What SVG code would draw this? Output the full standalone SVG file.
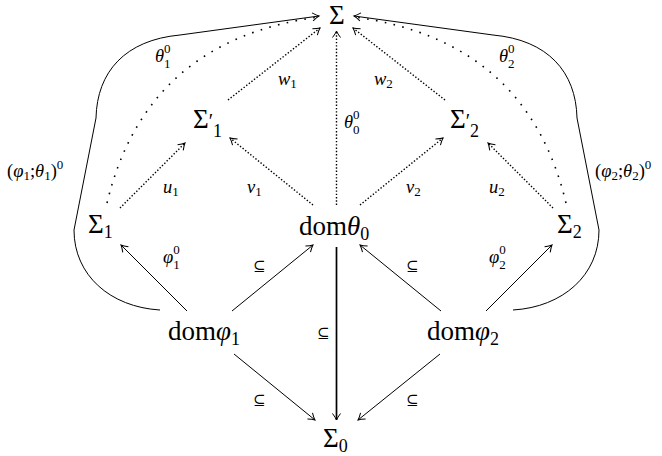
<svg xmlns="http://www.w3.org/2000/svg" width="662" height="456" viewBox="0 0 662 456">
<style>
text{font-family:"Liberation Serif","Times New Roman",serif;fill:#000}
.n{font-size:27px}
.l{font-size:18.5px}
.i{font-style:italic}
.s{font-size:13px}
.sn{font-size:18px}
.pr{font-size:20px}
.sub{font-family:"DejaVu Serif",serif;font-size:15px}
.solid{fill:none;stroke:#000;stroke-width:1}
.thick{fill:none;stroke:#000;stroke-width:1.7}
.dot{fill:none;stroke:#000;stroke-width:1.4;stroke-dasharray:1.4 1.9}
.cdot{fill:none;stroke:#000;stroke-width:1.6;stroke-dasharray:1.6 7.4}
</style>
<defs>
<marker id="ah" markerUnits="userSpaceOnUse" markerWidth="14" markerHeight="14" viewBox="-8 -7 10 14" refX="0" refY="0" orient="auto" overflow="visible">
<path d="M-6.5,-4 Q-2.5,-1 0,0 Q-2.5,1 -6.5,4" fill="none" stroke="#000" stroke-width="1"/>
</marker>
</defs>
<g id="connectors">
<path class="solid" d="M160,310 C110,307 74,275 74,230 L96,118 C97,72 125,40 180,35 L319,16" marker-end="url(#ah)"/>
<path class="solid" d="M513,310 C563,307 599,275 599,230 L577,118 C576,72 548,40 493,35 L354,16" marker-end="url(#ah)"/>
<path class="cdot" d="M107,203 Q146,40 319,17"/>
<path class="cdot" d="M566,203 Q527,40 354,17"/>
<path class="dot" d="M120,208 L185,143" marker-end="url(#ah)"/>
<path class="dot" d="M313,205 L230,138" marker-end="url(#ah)"/>
<path class="dot" d="M228,100 L320,28" marker-end="url(#ah)"/>
<path class="dot" d="M336.5,205 L336.5,31" marker-end="url(#ah)"/>
<path class="dot" d="M360,205 L443,138" marker-end="url(#ah)"/>
<path class="dot" d="M553,208 L488,143" marker-end="url(#ah)"/>
<path class="dot" d="M445,100 L353,28" marker-end="url(#ah)"/>
<path class="solid" d="M187,311 L121,245" marker-end="url(#ah)"/>
<path class="solid" d="M232,311 L313,245" marker-end="url(#ah)"/>
<path class="solid" d="M234,354 L315,420" marker-end="url(#ah)"/>
<path class="thick" d="M336.5,247 L336.5,420" marker-end="url(#ah)"/>
<path class="solid" d="M441,311 L360,245" marker-end="url(#ah)"/>
<path class="solid" d="M486,311 L552,245" marker-end="url(#ah)"/>
<path class="solid" d="M440,354 L358,420" marker-end="url(#ah)"/>
</g>
<g id="labels">
<text class="l" x="155" y="62"><tspan class="i">θ</tspan><tspan class="s" dy="-9">0</tspan><tspan class="s" dx="-6.5" dy="15">1</tspan></text>
<text class="l" x="499" y="62"><tspan class="i">θ</tspan><tspan class="s" dy="-9">0</tspan><tspan class="s" dx="-6.5" dy="15">2</tspan></text>
<text class="l" x="278" y="85"><tspan class="i">w</tspan><tspan class="s" dy="3">1</tspan></text>
<text class="l" x="374" y="85"><tspan class="i">w</tspan><tspan class="s" dy="3">2</tspan></text>
<text class="l" x="344" y="128"><tspan class="i">θ</tspan><tspan class="s" dy="-9">0</tspan><tspan class="s" dx="-6.5" dy="15">0</tspan></text>
<text class="l" x="163" y="193"><tspan class="i">u</tspan><tspan class="s" dy="3">1</tspan></text>
<text class="l" x="247" y="193"><tspan class="i">v</tspan><tspan class="s" dy="3">1</tspan></text>
<text class="l" x="406" y="193"><tspan class="i">v</tspan><tspan class="s" dy="3">2</tspan></text>
<text class="l" x="489" y="193"><tspan class="i">u</tspan><tspan class="s" dy="3">2</tspan></text>
<text class="l" x="7" y="177">(<tspan class="i">φ</tspan><tspan class="s" dy="3">1</tspan><tspan dy="-3">;</tspan><tspan class="i">θ</tspan><tspan class="s" dy="3">1</tspan><tspan dy="-3">)</tspan><tspan class="s" dy="-8">0</tspan></text>
<text class="l" x="595" y="177">(<tspan class="i">φ</tspan><tspan class="s" dy="3">2</tspan><tspan dy="-3">;</tspan><tspan class="i">θ</tspan><tspan class="s" dy="3">2</tspan><tspan dy="-3">)</tspan><tspan class="s" dy="-8">0</tspan></text>
<text class="l" x="163" y="263"><tspan class="i">φ</tspan><tspan class="s" dy="-9">0</tspan><tspan class="s" dx="-6.5" dy="15">1</tspan></text>
<text class="l" x="489" y="263"><tspan class="i">φ</tspan><tspan class="s" dy="-9">0</tspan><tspan class="s" dx="-6.5" dy="15">2</tspan></text>
<text class="sub" x="253" y="271">⊆</text>
<text class="sub" x="317" y="338">⊆</text>
<text class="sub" x="253" y="405">⊆</text>
<text class="sub" x="406" y="271">⊆</text>
<text class="sub" x="406" y="405">⊆</text>
</g>
<g id="Sigma"><text class="n" x="329" y="24">Σ</text></g>
<g id="Sigma1p"><text class="n" x="193" y="128">Σ<tspan class="pr">′</tspan><tspan class="sn" dy="9">1</tspan></text></g>
<g id="Sigma2p"><text class="n" x="450" y="128">Σ<tspan class="pr">′</tspan><tspan class="sn" dy="9">2</tspan></text></g>
<g id="Sigma1"><text class="n" x="88" y="233">Σ<tspan class="sn" dy="5">1</tspan></text></g>
<g id="Sigma2"><text class="n" x="557" y="233">Σ<tspan class="sn" dy="5">2</tspan></text></g>
<g id="domtheta0"><text class="n" x="299" y="235">dom<tspan class="i">θ</tspan><tspan class="sn" dy="5">0</tspan></text></g>
<g id="domphi1"><text class="n" x="168" y="340">dom<tspan class="i">φ</tspan><tspan class="sn" dy="5">1</tspan></text></g>
<g id="domphi2"><text class="n" x="427" y="340">dom<tspan class="i">φ</tspan><tspan class="sn" dy="5">2</tspan></text></g>
<g id="Sigma0"><text class="n" x="323" y="447">Σ<tspan class="sn" dy="5">0</tspan></text></g>
</svg>
